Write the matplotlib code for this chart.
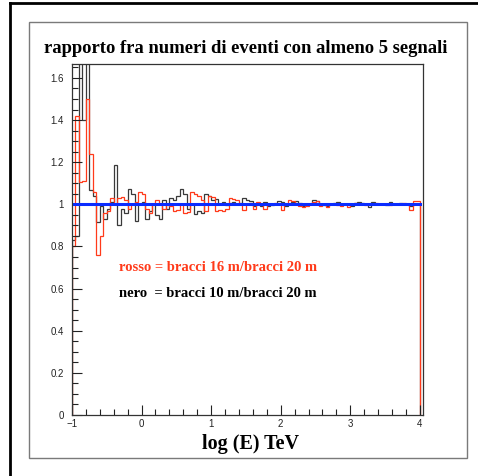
import numpy as np
import matplotlib
matplotlib.use('Agg')
import matplotlib.pyplot as plt
from matplotlib.lines import Line2D
from matplotlib.patches import Rectangle
from matplotlib.ticker import MultipleLocator

# 100 bins of 0.05 in log(E) from -1 to 4
edges = np.linspace(-1, 4, 101)

# nero = bracci 10 m / bracci 20 m
nero = [0.83, 0.85, 1.90, 1.40, 1.90, 1.07, 1.04, 0.915, 0.99, 0.93,
        0.98, 1.01, 1.185, 0.90, 0.98, 0.96, 1.075, 1.05, 0.92, 1.00,
        1.01, 0.93, 0.97, 1.00, 0.95, 0.93, 1.02, 0.98, 1.03, 1.02,
        1.04, 1.075, 1.05, 0.98, 1.00, 0.955, 0.97, 0.96, 1.05, 1.04,
        1.02, 1.025, 1.00, 1.01, 0.995, 1.005, 1.01, 1.00, 1.005, 1.03,
        1.02, 1.015, 0.99, 1.00, 0.99, 1.01, 0.99, 0.995, 1.00, 1.015,
        1.01, 0.99, 1.00, 1.01, 1.015, 1.005, 0.99, 0.995, 1.00, 1.02,
        1.015, 1.00, 0.995, 0.99, 1.00, 1.005, 1.01, 0.995, 1.00, 1.00,
        0.99, 1.005, 1.01, 1.005, 1.00, 0.985, 1.01, 1.00, 1.00, 1.00,
        0.995, 1.01, 1.00, 1.00, 1.005, 1.00, 1.00, 0.99, 1.00, 1.00]

# rosso = bracci 16 m / bracci 20 m
rosso = [0.80, 1.42, 1.105, 1.11, 1.50, 1.24, 1.06, 0.76, 0.85, 0.96,
         0.97, 1.03, 1.00, 1.03, 1.035, 1.02, 0.98, 1.00, 1.01, 1.06,
         1.05, 0.98, 0.96, 1.00, 1.02, 1.00, 0.98, 1.00, 0.99, 0.97,
         0.975, 1.00, 0.96, 0.965, 1.06, 1.05, 1.04, 1.02, 0.97, 1.04,
         1.035, 0.97, 0.975, 0.97, 0.98, 1.03, 1.025, 1.02, 1.00, 0.975,
         1.00, 1.005, 0.98, 1.01, 1.00, 0.98, 1.00, 1.00, 1.005, 1.00,
         0.975, 1.00, 1.02, 1.015, 1.00, 0.99, 0.985, 0.99, 1.00, 1.01,
         1.015, 0.99, 1.00, 0.985, 1.00, 1.00, 0.995, 0.99, 1.00, 0.985,
         1.00, 1.005, 1.00, 1.00, 0.995, 1.00, 1.00, 1.005, 1.00, 1.00,
         1.00, 0.995, 1.00, 1.00, 1.00, 1.005, 1.00, 0.975, 1.015, 1.015]

title = 'rapporto fra numeri di eventi con almeno 5 segnali'
label_rosso = 'rosso = bracci 16 m/bracci 20 m'
label_nero = 'nero  = bracci 10 m/bracci 20 m'
xlabel = 'log (E) TeV'

serif = 'Liberation Serif'

fig = plt.figure(figsize=(4.78, 4.76), dpi=100)
fig.patch.set_facecolor('white')

# outer window borders and inner canvas frame
fig.add_artist(Line2D([10/478, 10/478], [0, 1 - 3/476], color='black', lw=2.0))
fig.add_artist(Line2D([10/478, 1], [1 - 3/476, 1 - 3/476], color='black', lw=2.0))
fig.add_artist(Rectangle((29/478, 1 - 458/476), (467 - 29)/478, (458 - 22)/476,
                         transform=fig.transFigure, fill=False,
                         edgecolor='#7a7a7a', lw=1.0))

ax = fig.add_axes([72/478, 1 - 415/476, 351/478, 351/476])

ax.stairs(nero, edges, baseline=0, color='#3a3a3a', lw=0.9)
ax.stairs(rosso, edges, baseline=0, color='#ff3a1a', lw=0.9)
ax.plot([-1, 4], [1, 1], color='#0a2cff', lw=2.2)

ax.set_xlim(-1, 4.045)
ax.set_ylim(0, 1.666)

ax.xaxis.set_major_locator(MultipleLocator(1))
ax.xaxis.set_minor_locator(MultipleLocator(0.2))
ax.yaxis.set_major_locator(MultipleLocator(0.2))
ax.yaxis.set_minor_locator(MultipleLocator(0.05))
ax.tick_params(which='both', direction='in', top=False, right=False,
               width=0.8, labelsize=7, colors='#222222')
ax.tick_params(which='major', length=7)
ax.tick_params(which='minor', length=4)
ax.tick_params(axis='x', pad=3)
ax.tick_params(axis='y', pad=6)
ax.set_yticks(np.arange(0, 1.61, 0.2))
ax.set_yticklabels(['0', '0.2', '0.4', '0.6', '0.8', '1', '1.2', '1.4', '1.6'])
ax.set_xticklabels(['', '\u22121', '0', '1', '2', '3', '4'])
for lab in ax.get_xticklabels() + ax.get_yticklabels():
    lab.set_family('Liberation Sans')
for sp in ax.spines.values():
    sp.set_linewidth(0.9)
    sp.set_color('#333333')

ax.text(-0.33, 0.70, label_rosso, color='#ff3a1a', fontsize=10.5,
        fontweight='bold', family=serif, va='center', ha='left')
ax.text(-0.33, 0.575, label_nero, color='black', fontsize=10.5,
        fontweight='bold', family=serif, va='center', ha='left')

fig.text(0.515, 0.899, title, fontsize=13.4, fontweight='bold', family=serif,
         ha='center', va='center')
fig.text(0.525, 0.068, xlabel, fontsize=14.5, fontweight='bold', family=serif,
         ha='center', va='center')

fig.savefig('out.png', dpi=100)
